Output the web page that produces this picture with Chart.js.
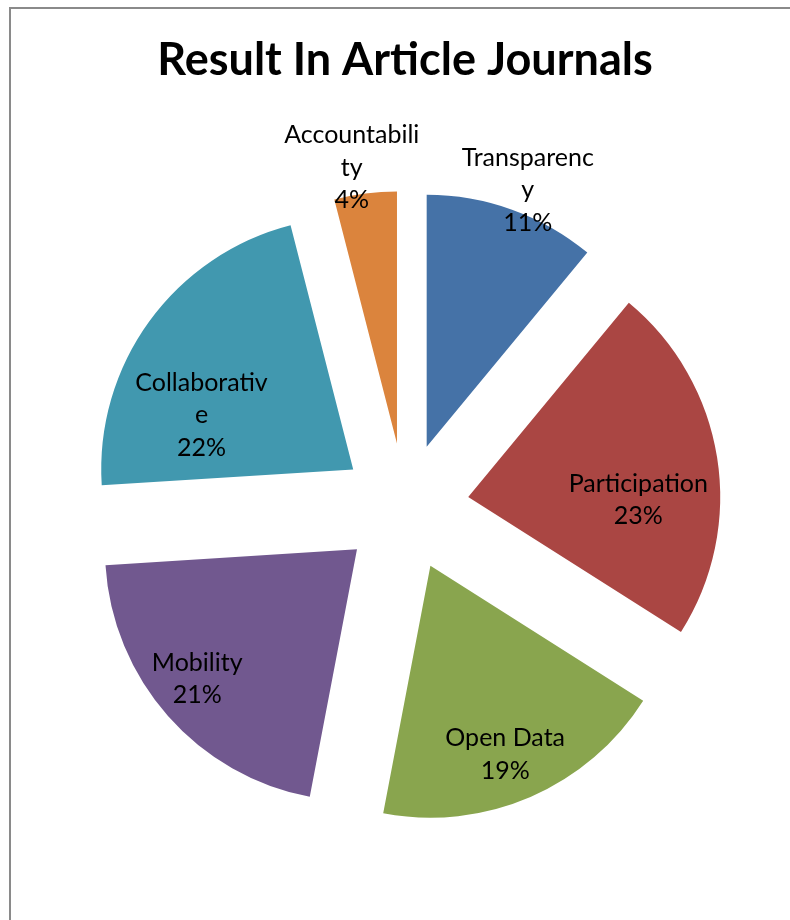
<!DOCTYPE html>
<html>
<head>
<meta charset="utf-8">
<script src="https://cdn.jsdelivr.net/npm/chart.js@4"></script>
<style>
    html, body { margin: 0; padding: 0; background: #fff; }
    #wrap { width: 790px; height: 920px; }
</style>
</head>
<body>
<div id="wrap"><canvas id="pieChart" width="790" height="920"></canvas></div>
<script>
// Data
const categories = ['Transparency', 'Participation', 'Open Data', 'Mobility', 'Collaborative', 'Accountability'];
const shares = [11, 23, 19, 21, 22, 4];
const sliceColors = ['#4572A7', '#AA4643', '#89A54E', '#71588F', '#4198AF', '#DB843D'];

// label placement (angle nudge in degrees, distance as fraction of radius from slice tip)
const labelNudge = [1.7, 10, 1.8, 2.3, -16.4, -2.1];
const labelDist = [1.095, 0.675, 0.806, 0.817, 0.639, 1.11];

const EXPLODE = 64;
const LABEL_FONT = '25px Lato';
const WRAP_WIDTH = 141;

// Excel-like border (left + top only visible)
const borderPlugin = {
    id: 'frame',
    beforeDraw(chart) {
        const c = chart.ctx;
        c.save();
        c.strokeStyle = '#8a8a8a';
        c.lineWidth = 2;
        c.beginPath();
        c.moveTo(10, chart.height + 5);
        c.lineTo(10, 8);
        c.lineTo(chart.width + 5, 8);
        c.stroke();
        c.restore();
    }
};

// move every slice out along its bisector by the same distance
const explodePlugin = {
    id: 'explode',
    afterDatasetUpdate(chart, args) {
        args.meta.data.forEach(arc => {
            const mid = (arc.startAngle + arc.endAngle) / 2;
            arc.x += Math.cos(mid) * EXPLODE;
            arc.y += Math.sin(mid) * EXPLODE;
        });
    }
};

function wrapText(ctx, text, maxW) {
    const lines = [];
    let line = '';
    for (const ch of text) {
        if (line && ctx.measureText(line + ch).width > maxW) {
            lines.push(line);
            line = ch;
        } else {
            line += ch;
        }
    }
    lines.push(line);
    return lines;
}

const labelPlugin = {
    id: 'sliceLabels',
    afterDatasetsDraw(chart) {
        const c = chart.ctx;
        const meta = chart.getDatasetMeta(0);
        c.save();
        c.font = LABEL_FONT;
        c.fillStyle = '#000';
        c.textAlign = 'center';
        c.textBaseline = 'middle';
        meta.data.forEach((arc, i) => {
            const mid = (arc.startAngle + arc.endAngle) / 2 + labelNudge[i] * Math.PI / 180;
            const r = arc.outerRadius * labelDist[i];
            const x = arc.x + Math.cos(mid) * r;
            const y = arc.y + Math.sin(mid) * r;
            const lines = wrapText(c, categories[i], WRAP_WIDTH);
            lines.push(shares[i] + '%');
            const lh = 32.5;
            const y0 = y - (lines.length - 1) * lh / 2;
            lines.forEach((ln, k) => c.fillText(ln, x, y0 + k * lh));
        });
        c.restore();
    }
};

const ctx = document.getElementById('pieChart').getContext('2d');
const pieChart = new Chart(ctx, {
    type: 'pie',
    data: {
        labels: categories,
        datasets: [{
            data: shares,
            backgroundColor: sliceColors,
            borderWidth: 0,
            hoverOffset: 0
        }]
    },
    options: {
        responsive: false,
        animation: false,
        radius: 252,
        layout: {
            padding: { left: 20, right: 0, top: 0, bottom: 40 }
        },
        plugins: {
            legend: { display: false },
            title: {
                display: true,
                text: 'Result In Article Journals',
                color: '#000',
                font: { family: 'Lato', size: 45, weight: 'bold' },
                padding: { top: 33, bottom: 47 }
            },
            tooltip: {
                callbacks: {
                    label: item => item.label + ': ' + item.raw + '%'
                }
            }
        }
    },
    plugins: [borderPlugin, explodePlugin, labelPlugin]
});
</script>
</body>
</html>
